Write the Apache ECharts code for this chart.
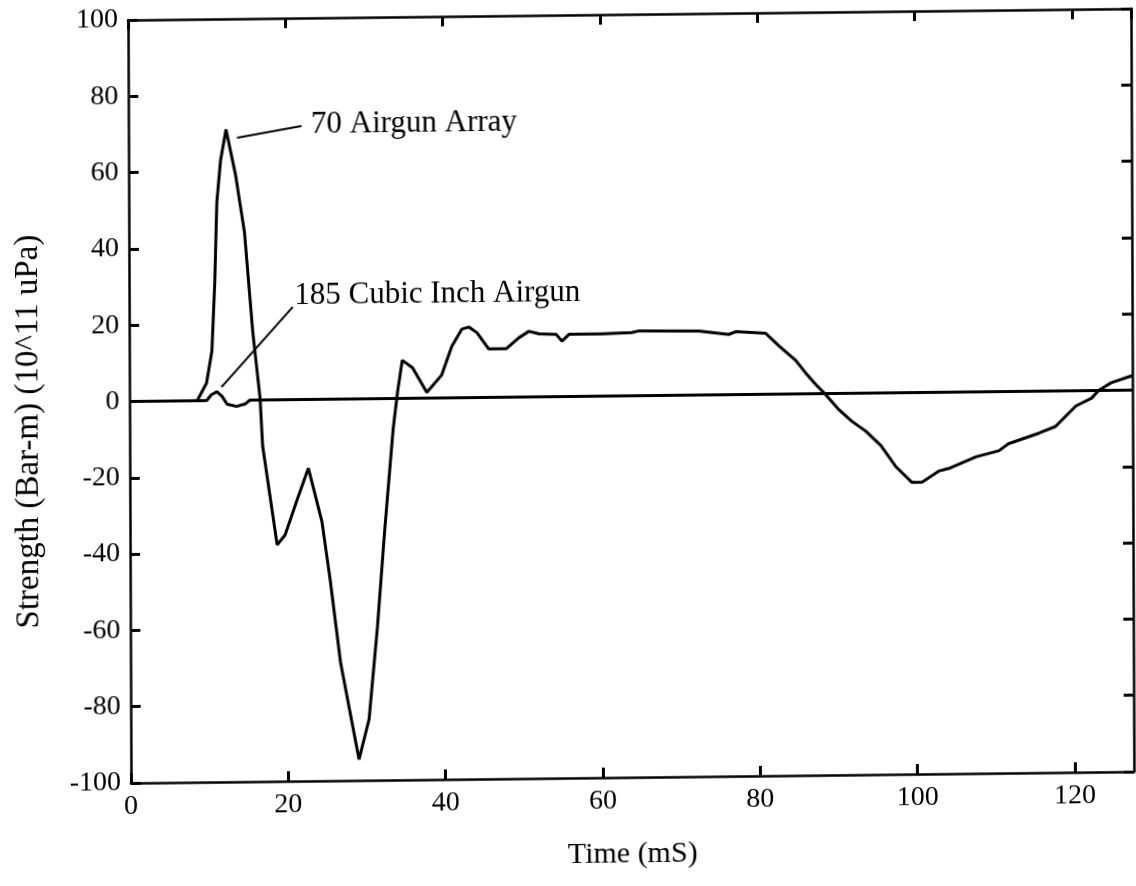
<!DOCTYPE html>
<html>
<head>
<meta charset="utf-8">
<script src="https://cdn.jsdelivr.net/npm/echarts@6/dist/echarts.min.js"></script>
<style>
  html, body { margin: 0; padding: 0; background: #ffffff; overflow: hidden; }
  #chart {
    width: 1136px; height: 886px;
    transform-origin: 131px 783px;
    transform: matrix(1, -0.01135, 0.0039, 1, 0, 0);
  }
</style>
</head>
<body>
<div id="chart"></div>
<script>
// ---- Data (Time in mS, Strength in Bar-m (10^11 uPa)) ----
const time70 = [0, 8.6, 9.8, 10.5, 10.9, 11.2, 11.7, 12.4, 13.6, 14.7, 15.7, 16.6, 16.9, 18.7, 19.7, 21.3, 22.7, 24.4, 25.4, 26.7, 29.0, 30.3, 31.4, 32.4, 33.5, 34.1, 34.7, 36.0, 37.8, 39.7, 41.0, 42.3, 43.2, 44.2, 45.7, 47.9, 49.5, 50.8, 52.1, 54.3, 55.0, 55.9, 60.0, 63.9, 64.8, 72.4, 76.2, 77.1, 80.9, 82.6, 84.7, 86.0, 87.3, 88.3, 90.2, 91.8, 93.6, 95.5, 97.4, 99.4, 100.7, 102.9, 104.1, 107.6, 110.5, 111.7, 115.6, 117.7, 120.3, 122.3, 123.2, 124.8, 127.5];
const strength70 = [0, 0, 4.6, 13, 31, 52, 63, 71, 59, 44, 18, 0.5, -12, -38, -35.5, -26, -18, -32, -47, -69, -94.5, -84, -60, -34, -8, 2, 10, 8, 1.5, 6, 13.5, 18, 18.5, 17, 12.7, 12.7, 15.5, 17.2, 16.5, 16.3, 14.5, 16.3, 16.3, 16.6, 17, 16.8, 15.8, 16.5, 16, 12.6, 8.8, 5.4, 2.3, 0.2, -4.3, -7.3, -10, -13.8, -19.4, -23.5, -23.5, -20.6, -20, -17, -15.5, -13.7, -11, -9.3, -4, -2, 0, 2, 3.8];
const time185 = [0, 9.8, 10.4, 11.1, 11.8, 12.4, 13.6, 14.7, 15.3, 127.5];
const strength185 = [0, 0, 1.5, 2.3, 1, -1, -1.6, -1, 0, 0];

// axis tick values
const xTicks = [0, 20, 40, 60, 80, 100, 120];
const yTicks = [-100, -80, -60, -40, -20, 0, 20, 40, 60, 80, 100];

const label70 = '70 Airgun Array';
const label185 = '185 Cubic Inch Airgun';
// leader lines [start, end] and label anchors, in data units
const leader70 = [[13.8, 68.8], [22.0, 71.7]];
const leader185 = [[11.7, 3.5], [20.8, 24.3]];
const anchor70 = [23.2, 72];
const anchor185 = [21.0, 27.2];

const xName = 'Time (mS)';
const yName = 'Strength (Bar-m) (10^11 uPa)';

const pairs = (xs, ys) => xs.map((x, i) => [x, ys[i]]);
const FONT = 'Liberation Serif';
const X_MIN = 0, X_MAX = 127.5, Y_MIN = -100, Y_MAX = 100;
const TICK_LEN = 10;   // px
const PLOT_W = 1003, PLOT_H = 763; // grid size in px (1136-131-2, 886-20-103)

const chart = echarts.init(document.getElementById('chart'), null, { renderer: 'canvas' });

function axisBase(extra) {
  const base = {
    type: 'value',
    axisLine: { show: true, onZero: false, lineStyle: { color: '#000', width: 2.5 } },
    axisTick: { show: true, inside: true, length: TICK_LEN, lineStyle: { color: '#000', width: 3 } },
    splitLine: { show: false },
    minorTick: { show: false }
  };
  return Object.assign(base, extra);
}

const lineStyle = { color: '#000', width: 3 };

// tick marks on all four sides as markLine segments in data units
const dx = TICK_LEN * (X_MAX - X_MIN) / PLOT_W;
const dy = TICK_LEN * (Y_MAX - Y_MIN) / PLOT_H;
const tickLines = [];
xTicks.forEach(v => {
  tickLines.push([{ coord: [v, Y_MIN] }, { coord: [v, Y_MIN + dy] }]);
  tickLines.push([{ coord: [v, Y_MAX] }, { coord: [v, Y_MAX - dy] }]);
});
yTicks.forEach(v => {
  tickLines.push([{ coord: [X_MIN, v] }, { coord: [X_MIN + dx, v] }]);
  tickLines.push([{ coord: [X_MAX, v] }, { coord: [X_MAX - dx, v] }]);
});

chart.setOption({
  animation: false,
  backgroundColor: '#ffffff',
  grid: { left: 131, right: 2, top: 20, bottom: 103, containLabel: false },
  xAxis: [
    axisBase({
      position: 'bottom', min: X_MIN, max: X_MAX, interval: 20,
      axisLabel: { fontFamily: FONT, fontSize: 28, color: '#000', margin: 10, showMaxLabel: false },
      name: xName, nameLocation: 'middle', nameGap: 62,
      nameTextStyle: { fontFamily: FONT, fontSize: 30, color: '#000' }
    }),
    axisBase({
      position: 'top', min: X_MIN, max: X_MAX, interval: 20,
      axisLabel: { show: false }
    })
  ],
  yAxis: [
    axisBase({
      position: 'left', min: Y_MIN, max: Y_MAX, interval: 20,
      axisLabel: { fontFamily: FONT, fontSize: 28, color: '#000', margin: 10 },
      name: yName, nameLocation: 'middle', nameGap: 84, nameRotate: 90,
      nameTextStyle: { fontFamily: FONT, fontSize: 33, color: '#000', padding: [0, 58, 0, 0] }
    }),
    axisBase({
      position: 'right', min: Y_MIN, max: Y_MAX, interval: 20,
      axisLabel: { show: false }
    })
  ],
  series: [
    {
      name: label185, type: 'line', data: pairs(time185, strength185),
      showSymbol: false, smooth: false, lineStyle: lineStyle, z: 3,
      markLine: {
        silent: true, symbol: ['none', 'none'], label: { show: false },
        lineStyle: { color: '#000', width: 2, type: 'solid' },
        data: [[{ coord: leader185[0] }, { coord: leader185[1] }]]
      }
    },
    {
      name: label70, type: 'line', data: pairs(time70, strength70),
      showSymbol: false, smooth: false, lineStyle: lineStyle, z: 3,
      markLine: {
        silent: true, symbol: ['none', 'none'], label: { show: false },
        lineStyle: { color: '#000', width: 2, type: 'solid' },
        data: [[{ coord: leader70[0] }, { coord: leader70[1] }]]
      }
    },
    {
      name: 'ticks', type: 'line', data: [], showSymbol: false, z: 5,
      markLine: {
        silent: true, symbol: ['none', 'none'], label: { show: false },
        lineStyle: { color: '#000', width: 3, type: 'solid' },
        data: tickLines
      }
    }
  ]
});

const p70 = chart.convertToPixel({ gridIndex: 0 }, anchor70);
const p185 = chart.convertToPixel({ gridIndex: 0 }, anchor185);
chart.setOption({
  graphic: [
    { type: 'text', x: p70[0], y: p70[1], silent: true,
      style: { text: label70, fontFamily: FONT, fontSize: 31, fill: '#000', textAlign: 'left', textVerticalAlign: 'middle' } },
    { type: 'text', x: p185[0], y: p185[1], silent: true,
      style: { text: label185, fontFamily: FONT, fontSize: 31, fill: '#000', textAlign: 'left', textVerticalAlign: 'middle' } }
  ]
});
</script>
</body>
</html>
